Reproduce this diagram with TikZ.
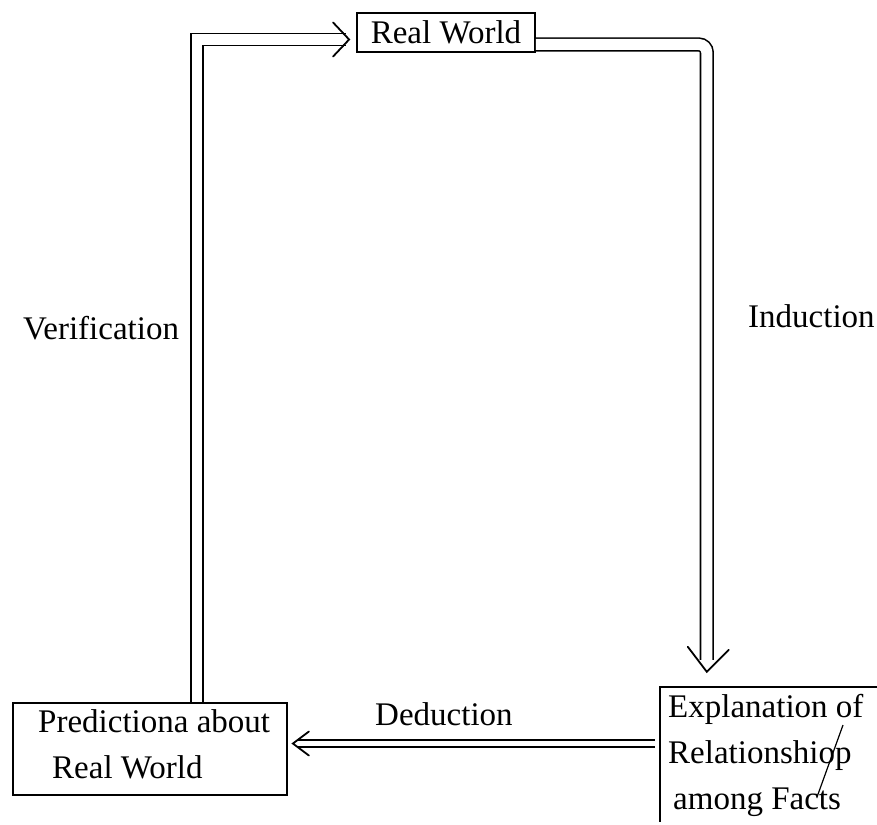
\documentclass[tikz,border=0pt]{standalone}
\usepackage{fontspec}
\setmainfont{Liberation Serif}
\usetikzlibrary{calc}
\begin{document}
\begin{tikzpicture}[x=1pt,y=-1pt,
  box/.style={draw,line width=1.8pt,inner sep=0pt},
  txt/.style={font=\fontsize{33}{39}\selectfont},
  lbl/.style={txt,inner sep=0pt,anchor=base west},
  dbl/.style={line width=1.6pt,double=white,double distance=#1},
  head/.style={line width=1.8pt,line cap=round,line join=miter},
]
\fill[white] (0,0) rectangle (877,824);
\useasboundingbox (0,0) rectangle (877,824);

% boxes
\node[box,txt,minimum width=178pt,minimum height=39pt] (real) at (446,32.5) {Real World};

\node[box,minimum width=274pt,minimum height=92pt] (pred) at (150,749) {};
\node[lbl] (pred1) at (38,732) {Predictiona about};
\node[lbl] (pred2) at (52,778) {Real World};

\node[inner sep=0pt,minimum width=217pt,minimum height=135pt] (expl) at (768.5,754.5) {};
\draw[line width=1.8pt] (expl.north east) -- (expl.north west) -- (expl.south west);
\node[lbl] (expl1) at (668,717) {Explanation of};
\node[lbl] (expl2) at (668,763) {Relationshiop};
\node[lbl] (expl3) at (673,809) {among Facts};
\draw[line width=1.2pt] (843,725) -- (817,797);

% verification: up from the predictions, across to the real world
\coordinate (vtip) at ([xshift=-7pt,yshift=-7pt]real.west);
\draw[dbl=10.2pt] ([xshift=47pt]pred.north) |- ([xshift=-10pt,yshift=-7pt]real.west);
\draw[head] ($(vtip)+(-16,-17)$) -- (vtip) -- ($(vtip)+(-16,17)$);

% induction: from the real world down to the explanation
\coordinate (itip) at ([xshift=47pt,yshift=15pt]expl.north west);
\draw[dbl=11pt,rounded corners=8pt] ([yshift=-12pt]real.east) -| ([xshift=47pt,yshift=27pt]expl.north west);
\draw[head] ($(itip)+(-19,-25)$) -- (itip) -- ($(itip)+(22,-22)$);

% deduction: from the explanation back to the predictions
\coordinate (dtip) at ([xshift=5pt,yshift=5.5pt]pred.east);
\draw[dbl=5.4pt] ([xshift=-5pt,yshift=11pt]expl.west) -- ([xshift=10pt,yshift=5.5pt]pred.east);
\draw[head] ($(dtip)+(16,-12)$) -- (dtip) -- ($(dtip)+(16,12)$);

% labels
\node[lbl] (verif) at (23,339) {Verification};
\node[lbl] (induc) at (748,327) {Induction};
\node[lbl] (deduc) at (375,725) {Deduction};
\end{tikzpicture}
\end{document}
